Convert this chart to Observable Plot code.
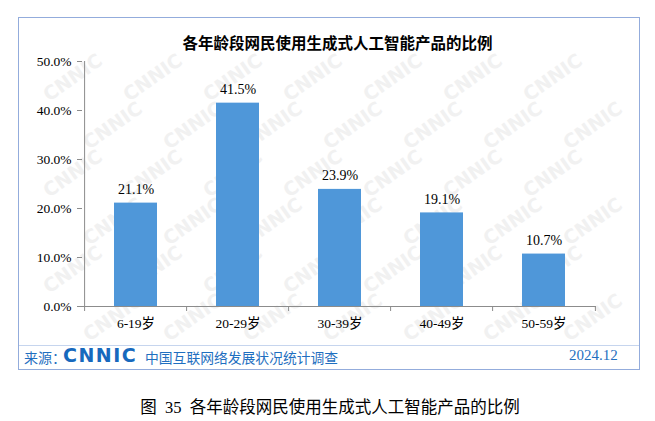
<!DOCTYPE html>
<html>
<head>
<meta charset="utf-8">
<script src="https://cdn.jsdelivr.net/npm/d3@7"></script>
<script src="https://cdn.jsdelivr.net/npm/@observablehq/plot@0.6"></script>
<style>
  html, body { margin: 0; padding: 0; background: #fff; }
  #page { position: relative; width: 655px; height: 421px; overflow: hidden; background: #fff; }
  #frame { position: absolute; left: 18px; top: 17px; width: 622px; height: 353px; box-sizing: border-box; border: 1px solid #93acdc; overflow: hidden; }
  #wm { position: absolute; left: 0; top: 0; width: 100%; height: 100%; }
  #wm span { position: absolute; font-family: "DejaVu Sans", sans-serif; font-weight: bold; font-size: 19px; color: #f1f1f1; transform: rotate(-35deg); white-space: nowrap; }
  #sep { position: absolute; left: 0; top: 327px; width: 100%; height: 0; border-top: 1px solid #c6d5ee; }
  #chart { position: absolute; left: 0; top: 0; }
  #title { position: absolute; left: 0; top: 31px; width: 675px; text-align: center; font-family: "Noto Sans CJK SC", sans-serif; font-weight: bold; font-size: 15.5px; color: #000; }
  .foot { position: absolute; color: #1f6fc0; white-space: nowrap; }
  #src { left: 24px; top: 347px; font-family: "Noto Sans CJK SC", sans-serif; font-size: 14px; }
  #logo { left: 63px; top: 344px; font-family: "DejaVu Sans", sans-serif; font-weight: 900; font-size: 19px; letter-spacing: 1.5px; color: #1769bd; }
  #survey { left: 145px; top: 347px; font-family: "Noto Sans CJK SC", sans-serif; font-size: 13.8px; }
  #date { left: 569px; top: 347px; font-family: "Liberation Serif", serif; font-size: 15px; }
  #caption { position: absolute; left: 0; top: 394px; width: 660px; text-align: center; font-family: "Liberation Serif", "Noto Sans CJK SC", serif; font-size: 16.5px; color: #000; white-space: pre; }
</style>
</head>
<body>
<div id="page">
  <div id="frame"><div id="wm"></div><div id="sep"></div></div>
  <div id="chart"></div>
  <div id="title"></div>
  <div class="foot" id="src">来源：</div>
  <div class="foot" id="logo">CNNIC</div>
  <div class="foot" id="survey">中国互联网络发展状况统计调查</div>
  <div class="foot" id="date">2024.12</div>
  <div id="caption"></div>
</div>
<script>
const chartTitle = "各年龄段网民使用生成式人工智能产品的比例";
const captionText = "图  35  各年龄段网民使用生成式人工智能产品的比例";
const categories = ["6-19岁", "20-29岁", "30-39岁", "40-49岁", "50-59岁"];
const values = [21.1, 41.5, 23.9, 19.1, 10.7];
const yTicks = [0, 10, 20, 30, 40, 50];

document.getElementById("title").textContent = chartTitle;
document.getElementById("caption").textContent = captionText;

// faint watermark, kept fully inside the frame
const wm = document.getElementById("wm");
const frameBox = document.getElementById("frame").getBoundingClientRect();
for (let r = 0; r < 8; r++) {
  for (let c = 0; c < 9; c++) {
    const s = document.createElement("span");
    s.textContent = "CNNIC";
    s.style.left = (c * 80 + (r % 2) * 40 - 20) + "px";
    s.style.top = (r * 48) + "px";
    wm.appendChild(s);
    const b = s.getBoundingClientRect();
    if (b.left < frameBox.left + 2 || b.right > frameBox.right - 2 || b.top < frameBox.top + 2 || b.bottom > frameBox.bottom - 2) wm.removeChild(s);
  }
}

const data = categories.map((c, i) => ({age: c, value: values[i]}));
const W = 655, H = 340, mL = 82, mR = 59, mT = 61, mB = 34;
const step = (W - mL - mR) / categories.length;
const fmt = d => d.toFixed(1) + "%";
const axisColor = "#8c8c8c";

const plot = Plot.plot({
  width: W, height: H,
  marginLeft: mL, marginRight: mR, marginTop: mT, marginBottom: mB,
  style: {fontFamily: "'Liberation Serif', 'Noto Sans CJK SC', serif", fontSize: "13px", color: "#000", background: "transparent"},
  x: {domain: categories, paddingInner: 0.58, paddingOuter: 0.29, label: null, axis: null},
  y: {domain: [0, 50], label: null, axis: null},
  marks: [
    Plot.barY(data, {x: "age", y: "value", fill: "#4f97d9"}),
    Plot.text(data, {x: "age", y: "value", text: d => fmt(d.value), lineAnchor: "bottom", dy: -9, fontSize: 14, fill: "#000"}),
    Plot.ruleX([categories[0]], {x: d => d, y1: 0, y2: 50, dx: -step / 2, stroke: axisColor}),
    Plot.ruleY([0], {stroke: axisColor}),
    Plot.axisY({ticks: yTicks, tickSize: 5, tickPadding: 6, tickFormat: fmt, stroke: axisColor, fill: "#000", fontSize: 13.5, label: null}),
    Plot.axisX({tickSize: 0, tickPadding: 12, fill: "#000", fontSize: 13.5, label: null}),
    Plot.axisX({tickSize: 5, tickFormat: () => "", dx: -step / 2, stroke: axisColor, label: null}),
    Plot.axisX({ticks: [categories[categories.length - 1]], tickSize: 5, tickFormat: () => "", dx: step / 2, stroke: axisColor, label: null})
  ]
});
document.getElementById("chart").appendChild(plot);
</script>
</body>
</html>
